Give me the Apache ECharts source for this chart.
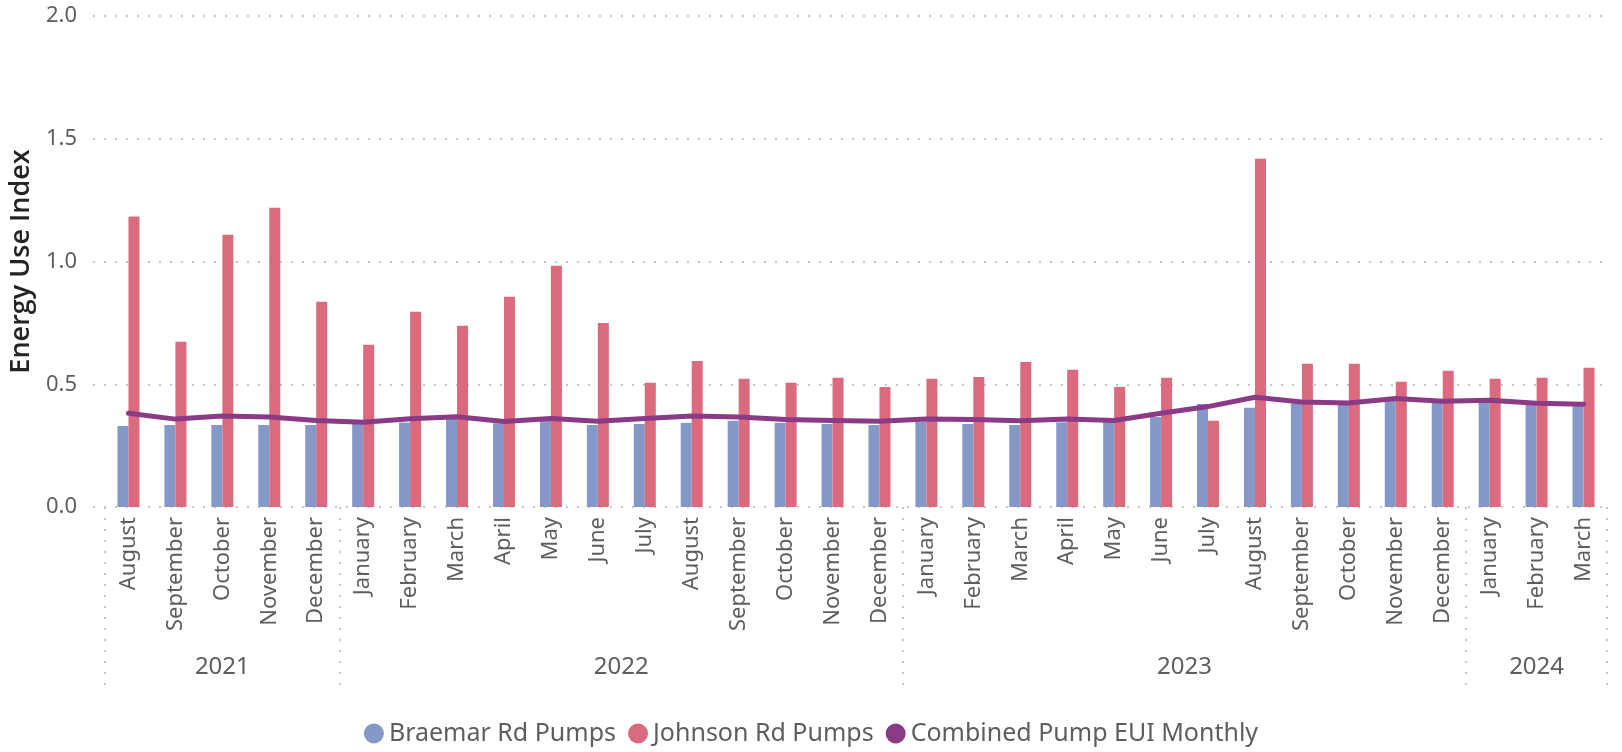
<!DOCTYPE html>
<html>
<head>
<meta charset="utf-8">
<script src="https://cdn.jsdelivr.net/npm/echarts@6/dist/echarts.min.js"></script>
<style>
html,body{margin:0;padding:0;background:#fff;}
#chart{width:1622px;height:752px;}
</style>
</head>
<body>
<div id="chart"></div>
<script>
const months = ['August','September','October','November','December',
  'January','February','March','April','May','June','July','August','September','October','November','December',
  'January','February','March','April','May','June','July','August','September','October','November','December',
  'January','February','March'];
const yearLabels = ['2021','2022','2023','2024'];
const yearCounts = [5,12,12,3];
const braemar = [0.330,0.334,0.334,0.334,0.334,
  0.340,0.344,0.358,0.341,0.351,0.334,0.338,0.343,0.351,0.343,0.338,0.334,
  0.347,0.338,0.334,0.345,0.347,0.367,0.420,0.404,0.423,0.416,0.432,0.426,
  0.426,0.416,0.412];
const johnson = [1.183,0.673,1.109,1.219,0.836,
  0.661,0.795,0.738,0.856,0.983,0.750,0.506,0.595,0.522,0.506,0.526,0.489,
  0.522,0.530,0.591,0.559,0.489,0.526,0.351,1.419,0.583,0.583,0.510,0.555,
  0.522,0.526,0.567];
const combined = [0.382,0.358,0.371,0.367,0.352,
  0.345,0.359,0.368,0.348,0.360,0.349,0.360,0.371,0.367,0.356,0.352,0.349,
  0.358,0.356,0.351,0.358,0.352,0.382,0.409,0.447,0.428,0.424,0.442,0.431,
  0.435,0.423,0.419];
const yTicks = [0, 0.5, 1.0, 1.5, 2.0];

const FONT = 'Noto Sans';
const TXT = '#605E5C';

// year separators and year label positions (in category-band units)
const sepVals = [0];
const yearCenters = [];
let acc = 0;
yearCounts.forEach(c => { yearCenters.push(acc + c / 2); acc += c; sepVals.push(acc); });

const chart = echarts.init(document.getElementById('chart'), null, {renderer: 'canvas'});
const option = {
  animation: false,
  textStyle: {fontFamily: FONT},
  grid: [
    {left: 93, right: 13, top: 16, bottom: 245},
    {left: 105, right: 15, top: 16, bottom: 245}
  ],
  legend: {
    top: 716,
    left: 'center',
    icon: 'circle',
    itemWidth: 20,
    itemHeight: 20,
    itemGap: 12,
    textStyle: {fontFamily: FONT, fontSize: 25, color: TXT},
    data: ['Braemar Rd Pumps', 'Johnson Rd Pumps', 'Combined Pump EUI Monthly']
  },
  xAxis: [
    {
      type: 'category', gridIndex: 1, data: months, position: 'bottom',
      axisLine: {show: false}, axisTick: {show: false},
      axisLabel: {rotate: 90, margin: 10, fontSize: 22, color: TXT, fontFamily: FONT, interval: 0}
    },
    {
      type: 'value', gridIndex: 1, min: 0, max: months.length, position: 'bottom',
      axisLine: {show: false}, splitLine: {show: false},
      axisTick: {show: true, customValues: sepVals, length: 178, inside: false,
        lineStyle: {color: '#C8C6C4', width: 2, type: [2, 9]}},
      axisLabel: {customValues: yearCenters, margin: 148, fontSize: 24, color: TXT, fontFamily: FONT,
        formatter: function (v) { const i = yearCenters.indexOf(v); return i >= 0 ? yearLabels[i] : ''; }}
    },
    {
      type: 'value', gridIndex: 0, min: 0, max: 1, show: false
    }
  ],
  yAxis: [
    {
      type: 'value', gridIndex: 0, min: 0, max: 2, interval: 0.5,
      axisLine: {show: false}, axisTick: {show: false},
      axisLabel: {fontSize: 22, color: TXT, margin: 16, fontFamily: FONT,
        formatter: v => v.toFixed(1)},
      splitLine: {show: true, lineStyle: {color: '#C8C6C4', width: 2, type: [2, 9]}},
      name: 'Energy Use Index', nameLocation: 'middle', nameGap: 54, nameRotate: 90,
      nameTextStyle: {fontSize: 27, fontWeight: 600, color: '#252423', fontFamily: 'Open Sans'}
    },
    {
      type: 'value', gridIndex: 1, min: 0, max: 2, interval: 0.5, show: false,
      splitLine: {show: false}
    }
  ],
  series: [
    {
      name: 'Braemar Rd Pumps', type: 'bar', xAxisIndex: 0, yAxisIndex: 1,
      data: braemar, barWidth: 11, barGap: '0%', itemStyle: {color: '#8499C8'}
    },
    {
      name: 'Johnson Rd Pumps', type: 'bar', xAxisIndex: 0, yAxisIndex: 1,
      data: johnson, barWidth: 11, barGap: '0%', itemStyle: {color: '#DC6A7E'}
    },
    {
      name: 'Combined Pump EUI Monthly', type: 'line', xAxisIndex: 0, yAxisIndex: 1,
      data: combined, symbol: 'none', z: 5,
      lineStyle: {color: '#8B3A86', width: 5, cap: 'round', join: 'round'},
      itemStyle: {color: '#8B3A86'}
    }
  ]
};
chart.setOption(option);
</script>
</body>
</html>
